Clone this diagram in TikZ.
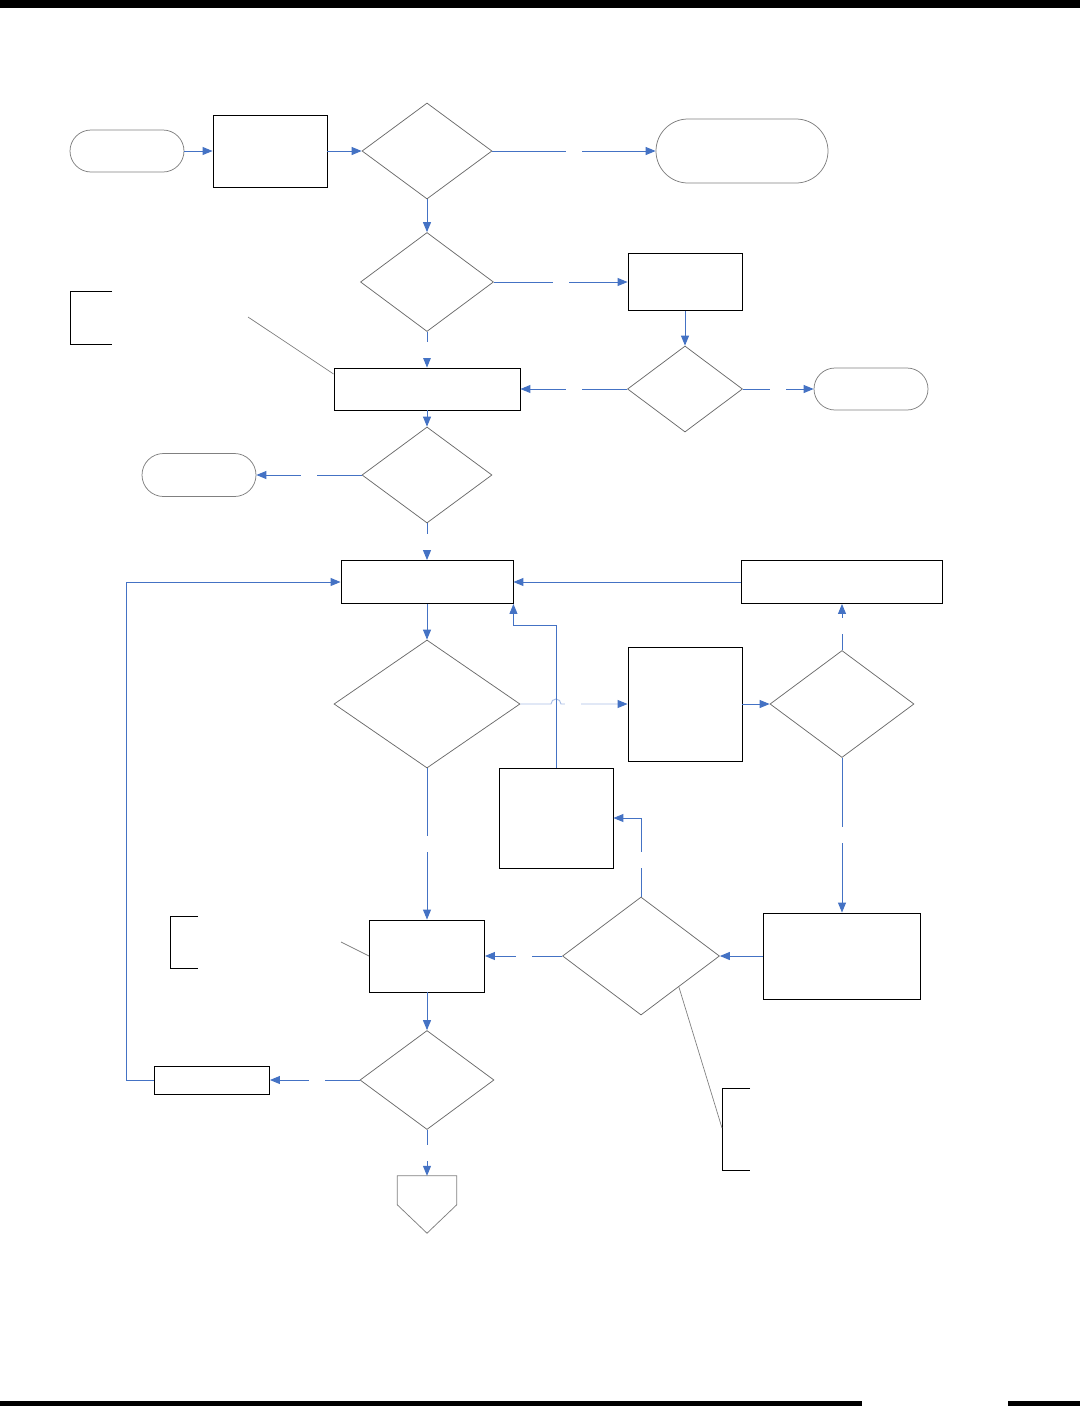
\documentclass[tikz,border=0pt]{standalone}
\usepackage{tikz}
\usetikzlibrary{arrows.meta,positioning,calc,shapes.geometric,shapes.misc}
\definecolor{flowblue}{HTML}{4472C4}
\definecolor{hopblue}{HTML}{A9BEE5}
\definecolor{edgegray}{HTML}{6B6B6B}

\begin{document}
\begin{tikzpicture}[x=1pt,y=-1pt,
  proc/.style={draw=black, line width=0.9pt, rectangle, inner sep=0pt},
  dec/.style={draw=edgegray, line width=0.75pt, diamond, inner sep=0pt},
  term/.style={draw=gray, line width=0.75pt, rounded rectangle, inner sep=0pt},
  flow/.style={draw=flowblue, line width=0.95pt, -{Triangle[length=10pt,width=8pt]}},
  lbl/.style={fill=white, inner sep=0pt, minimum size=16pt},
  note/.style={draw=gray, line width=0.7pt},
  bracket/.style={draw=black, line width=1pt}]
\useasboundingbox (0,0) rectangle (1080,1406);

% --- Page rules ---
\fill[black] (0,0) rectangle (1080,8);
\fill[black] (0,1401) rectangle (862,1406);
\fill[black] (1008,1401) rectangle (1080,1406);

% --- Top row ---
\node[term, minimum width=114pt, minimum height=42pt] (t1) at (127,151) {};
\node[proc, minimum width=114pt, minimum height=72pt] (r1) at (270,151) {};
\node[dec, minimum width=130pt, minimum height=96pt] (d1) at (427,151) {};
\node[term, minimum width=172pt, minimum height=64pt] (t2) at (742,151) {};

% --- Second and third rows ---
\node[dec, minimum width=133pt, minimum height=99pt] (d2) at (427,282) {};
\node[proc, minimum width=114pt, minimum height=57pt] (r3) at (685,282) {};
\node[dec, minimum width=115pt, minimum height=86pt] (d3) at (685,389) {};
\node[term, minimum width=114pt, minimum height=42pt] (t3) at (871,389) {};
\node[proc, minimum width=186pt, minimum height=42pt] (r4) at (427,389) {};
\node[dec, minimum width=130pt, minimum height=96pt] (d4) at (427,475) {};
\node[term, minimum width=114pt, minimum height=43pt] (t4) at (199,475) {};

% --- Loop part ---
\node[proc, minimum width=172pt, minimum height=43pt] (r5) at (427,582) {};
\node[proc, minimum width=201pt, minimum height=43pt] (r6) at (842,582) {};
\node[dec, minimum width=186pt, minimum height=128pt] (d5) at (427,704) {};
\node[proc, minimum width=114pt, minimum height=114pt] (r7) at (685,704) {};
\node[dec, minimum width=144pt, minimum height=107pt] (d6) at (842,704) {};
\node[proc, minimum width=114pt, minimum height=100pt] (r8) at (556,818) {};
\node[proc, minimum width=157pt, minimum height=86pt] (r9) at (842,956) {};
\node[dec, minimum width=157pt, minimum height=118pt] (d7) at (641,956) {};
\node[proc, minimum width=115pt, minimum height=72pt] (r10) at (427,956) {};
\node[dec, minimum width=134pt, minimum height=99pt] (d8) at (427,1080) {};
\node[proc, minimum width=115pt, minimum height=28pt] (r11) at (212,1080) {};

% Off-page connector
\node[inner sep=0pt, minimum width=59pt, minimum height=57pt] (off) at (427,1204.5) {};
\draw[draw=gray, line width=0.75pt] (off.north west) -- (off.north east) -- ++(0,29)
  -- (off.south) -- ($(off.north west)+(0,29)$) -- cycle;

% --- Connectors ---
\draw[flow] (t1.east) -- (r1.west);
\draw[flow] (r1.east) -- (d1.west);
\draw[flow] (d1.east) -- (t2.west) node[lbl, pos=0.5] {};
\draw[flow] (d1.south) -- (d2.north);
\draw[flow] (d2.east) -- (r3.west) node[lbl, pos=0.5] {};
\draw[flow] (d2.south) -- (r4.north) node[lbl, pos=0.5] {};
\draw[flow] (r3.south) -- (d3.north);
\draw[flow] (d3.west) -- (r4.east) node[lbl, pos=0.5] {};
\draw[flow] (d3.east) -- (t3.west) node[lbl, pos=0.5] {};
\draw[flow] (r4.south) -- (d4.north);
\draw[flow] (d4.west) -- (t4.east) node[lbl, pos=0.5] {};
\draw[flow] (d4.south) -- (r5.north) node[lbl, pos=0.5] {};
\draw[flow] (r6.west) -- (r5.east);
\draw[flow] (r5.south) -- (d5.north);
\coordinate (hop) at (r8.north |- d5.east);
\draw[flow, draw=hopblue, -{Triangle[length=10pt,width=8pt,color=flowblue]}]
  (d5.east) -- ([xshift=-5pt]hop) arc[start angle=180, end angle=0, radius=5pt]
  -- (r7.west) node[lbl, pos=0.18] {};
\draw[flow] (r8.north) |- ([yshift=-22pt]r5.south east) -- (r5.south east);
\draw[flow] (r7.east) -- (d6.west);
\draw[flow] (d6.north) -- (r6.south) node[lbl, pos=0.52] {};
\draw[flow] (d6.south) -- (r9.north) node[lbl, pos=0.5] {};
\draw[flow] (r9.west) -- (d7.east);
\draw[flow] (d7.north) |- (r8.east) node[lbl, pos=0.23] {};
\draw[flow] (d7.west) -- (r10.east) node[lbl, pos=0.49] {};
\draw[flow] (d5.south) -- (r10.north) node[lbl, pos=0.5] {};
\draw[flow] (r10.south) -- (d8.north);
\draw[flow] (d8.west) -- (r11.east) node[lbl, pos=0.48] {};
\draw[flow] (d8.south) -- (off.north) node[lbl, pos=0.5] {};
\draw[flow] (r11.west) -- ++(-28,0) |- (r5.west);

% --- Annotations ---
\draw[bracket] (112,291) -- (70,291) -- (70,344) -- (112,344);
\coordinate (n1) at (248,317);
\draw[note] (n1) -- ([yshift=15pt]r4.west);
\draw[bracket] (198,916) -- (170,916) -- (170,968) -- (198,968);
\coordinate (n2) at (341,942);
\draw[note] (n2) -- (r10.west);
\draw[bracket] (750,1088) -- (722,1088) -- (722,1170) -- (750,1170);
\coordinate (n3) at (722,1128);
\draw[note] ($(d7.east)!0.52!(d7.south)$) -- (n3);
\end{tikzpicture}
\end{document}
